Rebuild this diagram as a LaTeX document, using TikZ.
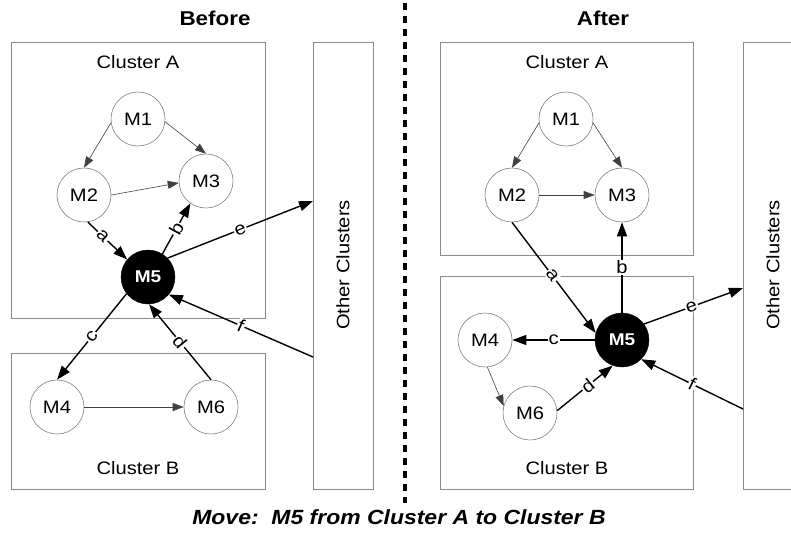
\documentclass[tikz,border=0pt]{standalone}
\usepackage{fontspec}
\setmainfont{Liberation Sans}[FakeStretch=1.12]
\usetikzlibrary{arrows.meta}
\definecolor{boxgray}{HTML}{8A8A8A}
\definecolor{circgray}{HTML}{808080}
\definecolor{thingray}{HTML}{404040}
\tikzset{
  mnode/.style={circle, draw=circgray, line width=0.6pt, minimum size=54pt, inner sep=0pt, font=\fontsize{18}{21}\selectfont},
  mblack/.style={circle, fill=black, draw=black, minimum size=54pt, inner sep=0pt, text=white, font=\bfseries\fontsize{17}{20}\selectfont},
  cluster/.style={draw=boxgray, line width=0.7pt},
  clabel/.style={font=\fontsize{18}{21}\selectfont},
  thinarr/.style={draw=thingray, line width=0.6pt, -{Triangle[length=11pt,width=8pt]}},
  thickarr/.style={draw=black, line width=1.4pt, -{Triangle[length=14pt,width=10pt]}},
  lbl/.style={fill=white, inner sep=1pt, font=\fontsize{18}{21}\selectfont},
  title/.style={font=\bfseries\fontsize{20}{23}\selectfont},
}
\begin{document}
\begin{tikzpicture}[x=1pt, y=-1pt]
\useasboundingbox (0,0) rectangle (791,538);

% ---------- Before ----------
\node[title] (tb) at (215,18) {Before};
\draw[cluster] (11,42) rectangle (265,318);
\draw[cluster] (11,353) rectangle (265,489);
\draw[cluster] (313,42) rectangle (373,489);
\node[clabel] (cab) at (138,62) {Cluster A};
\node[clabel] (cbb) at (138,468) {Cluster B};
\node[clabel, rotate=90] (ocb) at (343,265) {Other Clusters};
\coordinate (eb) at (313,201);
\coordinate (fb) at (313,357);

\node[mnode] (b1) at (138,119) {M1};
\node[mnode] (b2) at (84,195) {M2};
\node[mnode] (b3) at (206,181) {M3};
\node[mblack] (b5) at (148,277) {M5};
\node[mnode] (b4) at (57,407) {M4};
\node[mnode] (b6) at (211,407) {M6};

\draw[thinarr] (b1.188) -- (b2.90);
\draw[thinarr] (b1.-6) -- (b3.90);
\draw[thinarr] (b2.0) -- (b3.184);
\draw[thinarr] (b4.0) -- (b6.180);
\draw[thickarr] (b2.-82) -- node[lbl, pos=0.38, sloped] {a} (b5.140);
\draw[thickarr] (b5.58) -- node[lbl, pos=0.5, sloped] {b} (b3.235);
\draw[thickarr] (b5.218) -- node[lbl, pos=0.5, sloped] {c} (b4.90);
\draw[thickarr] (b6.90) -- node[lbl, pos=0.5, sloped] {d} (b5.-88);
\draw[thickarr] (b5.44) -- node[lbl, pos=0.5, sloped] {e} (eb);
\draw[thickarr] (fb) -- node[lbl, pos=0.5, sloped] {f} (b5.-40);

% ---------- divider ----------
\coordinate (dtop) at (405,3);
\coordinate (dbot) at (405,503);
\draw[line width=3.8pt, dash pattern=on 7pt off 6pt] (dtop) -- (dbot);

% ---------- After ----------
\node[title] (ta) at (603,18) {After};
\draw[cluster] (440,42) rectangle (693,255);
\draw[cluster] (440,276) rectangle (693,489);
\draw[cluster] (743,42) rectangle (803,489);
\node[clabel] (caa) at (567,62) {Cluster A};
\node[clabel] (cba) at (567,468) {Cluster B};
\node[clabel, rotate=90] (oca) at (773,265) {Other Clusters};
\coordinate (ea) at (743,288);
\coordinate (fa) at (743,409);

\node[mnode] (a1) at (566,119) {M1};
\node[mnode] (a2) at (512,195) {M2};
\node[mnode] (a3) at (622,195) {M3};
\node[mblack] (a5) at (622,340) {M5};
\node[mnode] (a4) at (485,340) {M4};
\node[mnode] (a6) at (530,413) {M6};

\draw[thinarr] (a1.188) -- (a2.90);
\draw[thinarr] (a1.-8) -- (a3.90);
\draw[thinarr] (a2.0) -- (a3.180);
\draw[thinarr] (a4.-85) -- (a6.165);
\draw[thickarr] (a2.-90) -- node[lbl, pos=0.48, sloped] {a} (a5.165);
\draw[thickarr] (a5.90) -- node[lbl, pos=0.5] {b} (a3.-90);
\draw[thickarr] (a5.180) -- node[lbl, pos=0.5] {c} (a4.0);
\draw[thickarr] (a6.5) -- node[lbl, pos=0.55, sloped] {d} (a5.250);
\draw[thickarr] (a5.36) -- node[lbl, pos=0.48, sloped] {e} (ea);
\draw[thickarr] (fa) -- node[lbl, pos=0.5, sloped] {f} (a5.-45);

% ---------- caption ----------
\node[font=\bfseries\itshape\fontsize{20.5}{24}\selectfont] (cap) at (399,517) {Move:\ \ M5 from Cluster A to Cluster B};
\end{tikzpicture}
\end{document}
